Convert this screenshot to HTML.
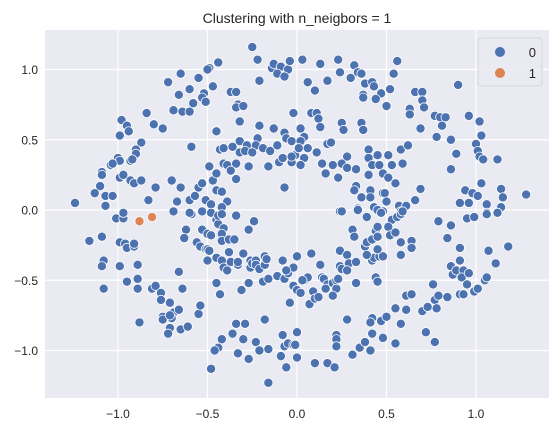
<!DOCTYPE html>
<html><head><meta charset="utf-8"><style>
body{margin:0;background:#fff;font-family:"Liberation Sans",sans-serif}
svg text{font-family:"Liberation Sans",sans-serif;fill:#262626}
</style></head><body>
<svg id="chart" width="559" height="437">
<text x="297" y="23" font-size="14" text-anchor="middle">Clustering with n_neigbors = 1</text>
<rect x="45" y="30" width="504" height="368" fill="#eaeaf2"/>
<g id="grid"></g><g id="ticks"></g><g id="pts"></g>
<g>
<rect x="478" y="38" width="64" height="48" rx="3" fill="#eaeaf2" stroke="#d0d0d8" stroke-width="0.8" fill-opacity="0.85"/>
<circle cx="500" cy="52" r="5" fill="#4c72b0"/>
<text x="536" y="57" font-size="13" text-anchor="end">0</text>
<circle cx="500" cy="73" r="5" fill="#dd8452"/>
<text x="536" y="78" font-size="13" text-anchor="end">1</text>
</g>
</svg>
<script>
const xTicks=[-1.0,-0.5,0.0,0.5,1.0];
const yTicks=[-1.0,-0.5,0.0,0.5,1.0];
const cluster1=[[-0.88,-0.08],[-0.81,-0.05]];
const cluster0=[
[-0.25,1.16],[-0.22,1.07],[-0.44,1.05],[-0.49,1.01],[-0.50,1.00],[-0.65,0.97],[-0.72,0.91],[-0.55,0.94],[-0.60,0.86],[-0.66,0.82],
[-0.52,0.83],[-0.53,0.80],[-0.51,0.77],[-0.47,0.88],[-0.58,0.76],[-0.69,0.71],[-0.64,0.70],[-0.60,0.70],[-0.84,0.69],[-0.98,0.64],
[-0.95,0.60],[-0.99,0.53],[-0.94,0.56],[-0.80,0.61],[-0.75,0.58],[-0.87,0.48],[-0.90,0.43],[-0.90,0.40],[-1.00,0.37],[-0.99,0.35],
[-0.93,0.35],[-0.92,0.36],[-1.04,0.32],[-1.03,0.33],[-1.09,0.27],[-1.09,0.25],[-0.99,0.23],[-0.97,0.25],[-0.93,0.21],[-0.91,0.19],
[-0.87,0.21],[-1.10,0.17],[-1.13,0.12],[-1.07,0.10],[-1.03,0.10],[-1.24,0.05],[-1.07,0.03],[-0.83,0.07],[-0.79,0.16],[-0.70,0.21],
[-0.65,0.16],[-0.59,0.45],[-0.67,0.06],[-0.60,0.07],[-0.57,0.10],[-0.55,0.16],[-0.53,0.19],[-0.49,0.31],[-0.47,0.21],[-0.45,0.26],
[-0.45,0.14],[-0.42,0.13],[-0.39,0.06],[-0.51,0.07],[-0.48,0.04],[-0.42,0.02],[-0.45,0.56],[-0.37,0.84],[-0.34,0.84],[-0.33,0.75],
[-0.34,0.73],[-0.30,0.74],[-0.32,0.63],[-0.21,0.92],[-0.21,0.60],[-0.13,0.58],[-0.14,1.01],[-0.13,1.04],[-0.09,1.02],[-0.05,1.00],
[-0.04,1.06],[-0.11,0.97],[-0.07,0.95],[-0.02,0.69],[-0.07,0.55],[-0.06,0.51],[-0.03,0.49],[-0.32,0.49],[-0.28,0.46],[-0.22,0.51],
[-0.23,0.46],[-0.19,0.44],[-0.15,0.42],[-0.11,0.46],[-0.43,0.43],[-0.41,0.44],[-0.36,0.45],[-0.32,0.41],[-0.29,0.42],[-0.25,0.41],
[-0.41,0.33],[-0.39,0.32],[-0.34,0.33],[-0.37,0.28],[-0.34,0.22],[-0.27,0.31],[-0.16,0.31],[-0.10,0.34],[-0.08,0.37],[-0.03,0.34],
[-0.01,0.39],[-0.03,0.38],[-0.07,0.16],[0.02,0.32],[0.01,0.44],
[0.03,1.07],[0.13,1.04],[0.23,1.07],[0.32,1.03],[0.56,1.06],[0.24,0.98],[0.30,0.94],[0.34,0.98],[0.36,0.97],[0.54,0.97],
[0.17,0.92],[0.06,0.91],[0.10,0.85],[0.38,0.90],[0.42,0.91],[0.43,0.88],[0.52,0.86],[0.47,0.83],[0.37,0.82],[0.37,0.80],
[0.44,0.79],[0.50,0.74],[0.66,0.84],[0.70,0.84],[0.70,0.78],[0.71,0.73],[0.63,0.72],[0.63,0.68],[0.90,0.89],[0.08,0.69],
[0.11,0.69],[0.12,0.65],[0.13,0.59],[0.25,0.62],[0.26,0.57],[0.36,0.62],[0.37,0.57],[0.02,0.58],[0.04,0.52],[0.02,0.49],
[0.01,0.44],[0.06,0.44],[0.11,0.41],[0.04,0.37],[0.02,0.32],[0.17,0.47],[0.19,0.48],[0.14,0.33],[0.20,0.32],[0.16,0.26],
[0.23,0.23],[0.28,0.38],[0.25,0.33],[0.28,0.30],[0.33,0.29],[0.40,0.43],[0.40,0.37],[0.45,0.39],[0.51,0.39],[0.42,0.32],
[0.46,0.32],[0.53,0.32],[0.59,0.33],[0.58,0.43],[0.62,0.46],[0.40,0.25],[0.48,0.26],[0.51,0.23],[0.55,0.19],[0.77,0.67],
[0.80,0.66],[0.83,0.66],[0.81,0.60],[0.69,0.58],[0.78,0.52],[0.86,0.50],[0.96,0.67],[1.02,0.63],[1.03,0.53],[1.00,0.47],
[1.01,0.42],[1.02,0.38],[1.04,0.36],[0.89,0.40],[0.86,0.29],[1.12,0.36],[1.03,0.19],[0.69,0.15],[0.66,0.07],[0.33,0.17],
[0.32,0.14],[0.41,0.14],[0.36,0.09],[0.41,0.09],[0.48,0.12],[0.49,0.12],[0.50,0.06],[0.34,0.01],[0.43,0.02],[0.45,0.00],
[0.48,-0.01],[0.57,0.03],[0.61,0.03],[0.58,-0.01],[0.24,-0.01],[0.94,0.14],[0.98,0.12],[1.01,0.10],[0.91,0.05],[0.96,0.05],
[1.06,0.04],[1.14,0.15],[1.15,0.09],[1.14,0.02],[1.12,-0.02],[1.06,-0.02],[1.28,0.11],
[-1.01,-0.06],[-0.97,-0.06],[-0.97,-0.02],[-0.69,-0.01],[-0.59,-0.03],[-0.60,-0.02],[-0.53,-0.01],[-0.48,-0.02],[-0.34,-0.04],[-1.16,-0.22],
[-1.09,-0.19],[-0.99,-0.23],[-0.96,-0.24],[-0.95,-0.27],[-0.91,-0.26],[-0.91,-0.24],[-1.08,-0.36],[-1.09,-0.40],[-0.99,-0.40],[-0.89,-0.39],
[-0.95,-0.51],[-0.89,-0.49],[-0.89,-0.56],[-1.08,-0.56],[-0.88,-0.80],[-0.81,-0.56],[-0.79,-0.54],[-0.76,-0.59],[-0.76,-0.64],[-0.71,-0.66],
[-0.69,-0.73],[-0.66,-0.71],[-0.75,-0.76],[-0.75,-0.78],[-0.70,-0.77],[-0.71,-0.75],[-0.71,-0.84],[-0.72,-0.88],[-0.65,-0.85],[-0.61,-0.83],
[-0.66,-0.44],[-0.64,-0.56],[-0.55,-0.74],[-0.54,-0.68],[-0.62,-0.14],[-0.63,-0.20],[-0.53,-0.14],[-0.50,-0.17],[-0.48,-0.18],[-0.45,-0.07],
[-0.44,-0.10],[-0.44,-0.04],[-0.42,-0.03],[-0.41,-0.13],[-0.42,-0.17],[-0.42,-0.22],[-0.38,-0.21],[-0.35,-0.21],[-0.24,-0.08],[-0.27,-0.14],
[-0.56,-0.23],[-0.54,-0.26],[-0.51,-0.28],[-0.50,-0.28],[-0.49,-0.29],[-0.50,-0.36],[-0.45,-0.34],[-0.42,-0.36],[-0.37,-0.37],[-0.38,-0.30],
[-0.41,-0.41],[-0.39,-0.43],[-0.33,-0.39],[-0.33,-0.37],[-0.30,-0.31],[-0.26,-0.36],[-0.26,-0.41],[-0.25,-0.38],[-0.23,-0.36],[-0.23,-0.39],
[-0.21,-0.42],[-0.18,-0.33],[-0.18,-0.39],[-0.17,-0.35],[-0.08,-0.36],[-0.11,-0.47],[-0.07,-0.49],[-0.05,-0.45],[-0.02,-0.41],[-0.06,-0.43],
[0.00,-0.33],[-0.02,-0.54],[0.00,-0.57],[-0.04,-0.66],[-0.45,-0.52],[-0.43,-0.60],[-0.31,-0.57],[-0.27,-0.52],[-0.19,-0.51],[-0.16,-0.49],
[-0.18,-0.78],[-0.34,-0.81],[-0.29,-0.81],[-0.36,-0.88],[-0.30,-0.92],[-0.42,-0.92],[-0.44,-0.98],[-0.46,-1.00],[-0.33,-1.02],[-0.27,-1.06],
[-0.23,-0.94],[-0.21,-1.00],[-0.16,-0.99],[-0.48,-1.13],[-0.16,-1.23],[-0.08,-0.89],[-0.07,-0.97],[-0.05,-0.95],[-0.02,-0.96],[0.00,-0.87],
[0.00,-1.05],[-0.09,-1.04],[-0.06,-1.12],
[0.25,-0.01],[0.34,0.00],[0.39,-0.05],[0.45,0.00],[0.47,-0.02],[0.53,-0.07],[0.56,-0.05],[0.58,-0.03],[0.59,-0.01],[0.51,-0.12],
[0.31,-0.14],[0.32,-0.19],[0.38,-0.26],[0.39,-0.23],[0.42,-0.21],[0.44,-0.15],[0.45,-0.19],[0.45,-0.12],[0.42,-0.36],[0.43,-0.34],
[0.46,-0.33],[0.48,-0.33],[0.39,-0.32],[0.45,-0.28],[0.52,-0.18],[0.55,-0.16],[0.58,-0.23],[0.58,-0.32],[0.64,-0.22],[0.64,-0.27],
[0.00,-0.33],[0.08,-0.31],[0.13,-0.39],[0.24,-0.29],[0.28,-0.32],[0.29,-0.38],[0.33,-0.37],[0.24,-0.40],[0.25,-0.42],[0.28,-0.43],
[0.04,-0.50],[0.06,-0.48],[0.03,-0.50],[0.14,-0.48],[0.15,-0.49],[0.17,-0.53],[0.16,-0.56],[0.20,-0.52],[0.22,-0.56],[0.22,-0.50],
[0.23,-0.49],[0.33,-0.52],[0.00,-0.57],[0.02,-0.59],[0.09,-0.58],[0.07,-0.67],[0.10,-0.63],[0.12,-0.62],[0.20,-0.61],[0.44,-0.48],
[0.45,-0.51],[0.28,-0.78],[0.42,-0.77],[0.41,-0.80],[0.47,-0.79],[0.50,-0.76],[0.55,-0.70],[0.61,-0.71],[0.58,-0.81],[0.61,-0.61],
[0.64,-0.60],[0.00,-0.87],[-0.01,-0.96],[0.00,-1.05],[0.10,-1.09],[0.17,-1.09],[0.21,-1.12],[0.22,-0.89],[0.22,-0.92],[0.22,-0.97],
[0.31,-1.03],[0.35,-0.98],[0.38,-0.94],[0.41,-1.00],[0.42,-0.88],[0.48,-0.91],[0.55,-0.95],[0.70,-0.72],[0.73,-0.69],[0.76,-0.53],
[0.77,-0.64],[0.79,-0.61],[0.78,-0.70],[0.72,-0.87],[0.77,-0.94],[0.84,-0.62],[0.79,-0.08],[0.86,-0.11],[0.95,-0.06],[0.99,-0.05],
[1.06,-0.03],[1.12,-0.02],[0.84,-0.20],[0.91,-0.27],[1.07,-0.29],[1.18,-0.26],[1.11,-0.38],[0.86,-0.40],[0.87,-0.46],[0.89,-0.43],
[0.91,-0.36],[0.93,-0.43],[0.92,-0.48],[0.95,-0.53],[0.96,-0.45],[0.91,-0.60],[0.93,-0.60],[0.99,-0.58],[1.01,-0.56],[1.05,-0.50],
[1.06,-0.48]
];
const NS='http://www.w3.org/2000/svg';
const L=45,R=549,T=30,B=398;
function sx(v){return 297+v*179;}
function sy(v){return 210-v*140.5;}
function mk(tag,attrs,parent){const e=document.createElementNS(NS,tag);for(const k in attrs)e.setAttribute(k,attrs[k]);parent.appendChild(e);return e;}
const grid=document.getElementById('grid'),ticks=document.getElementById('ticks'),pts=document.getElementById('pts');
xTicks.forEach(t=>{
  const l=mk('line',{x1:sx(t),x2:sx(t),y1:T,y2:B,stroke:'#fff','stroke-width':1.2},grid);
  
  
  const tx=mk('text',{x:sx(t),y:B+20,'font-size':12,'text-anchor':'middle'},ticks);
  tx.textContent=t.toFixed(1).replace('-','\u2212');
  
  
});
yTicks.forEach(t=>{
  const l=mk('line',{x1:L,x2:R,y1:sy(t),y2:sy(t),stroke:'#fff','stroke-width':1.2},grid);
  
  
  const tx=mk('text',{x:L-7,y:sy(t)+4.5,'font-size':12,'text-anchor':'end'},ticks);
  tx.textContent=t.toFixed(1).replace('-','\u2212');
  
  
});
cluster0.forEach(p=>{
  const c=mk('circle',{cx:sx(p[0]),cy:sy(p[1]),r:4.6,fill:'#4c72b0',stroke:'#fff','stroke-width':0.8},pts);
  
  
});
cluster1.forEach(p=>{
  const c=mk('circle',{cx:sx(p[0]),cy:sy(p[1]),r:4.6,fill:'#dd8452',stroke:'#fff','stroke-width':0.8},pts);
  
  
});
</script>
</body></html>
